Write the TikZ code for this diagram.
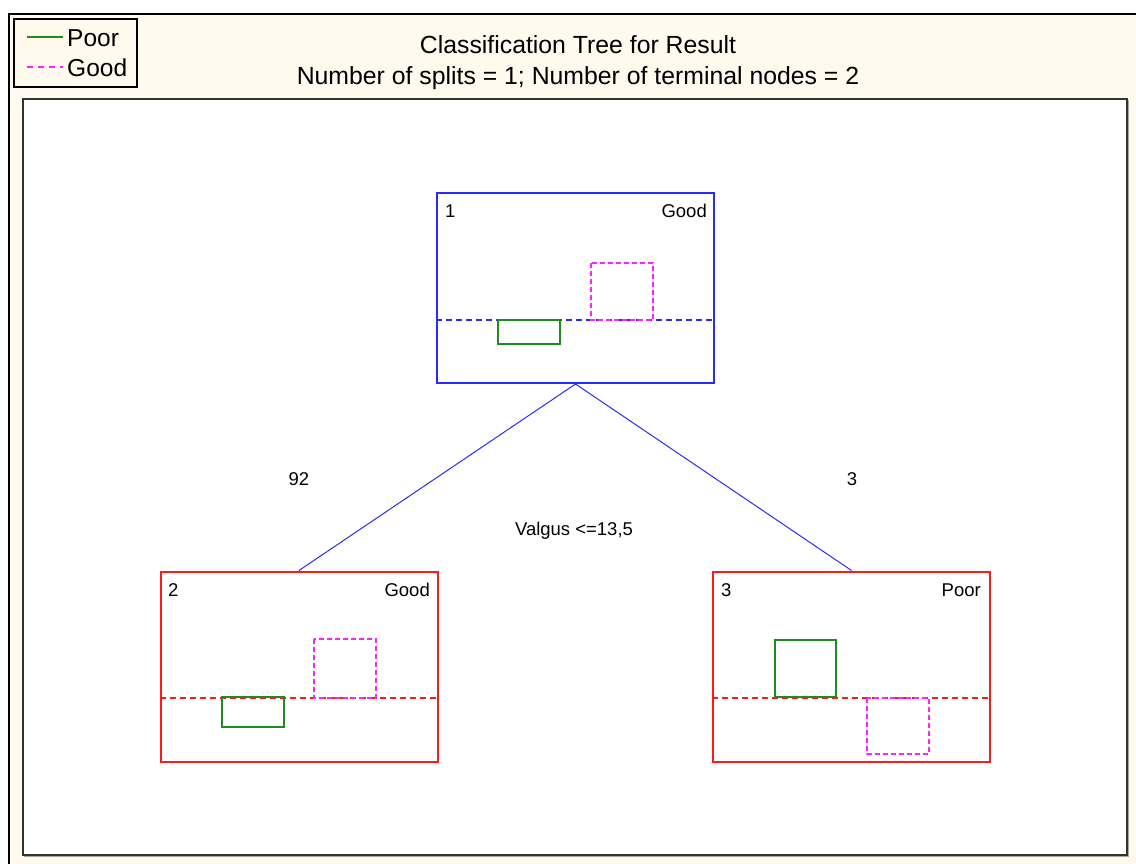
\documentclass[tikz,border=0pt]{standalone}
\usepackage{fontspec}
\setmainfont{Liberation Sans}
\definecolor{cream}{HTML}{FFF9EE}
\definecolor{treeblue}{HTML}{2A2AFF}
\definecolor{treered}{HTML}{FF1A1A}
\definecolor{poorgreen}{HTML}{1E8C1E}
\definecolor{goodmag}{HTML}{FF22FF}
\tikzset{
  txt/.style={inner sep=0pt, text=black},
  title/.style={txt, font=\fontsize{24.8}{28}\selectfont},
  small/.style={txt, font=\fontsize{18.5}{21}\selectfont},
  legtxt/.style={txt, font=\fontsize{24.5}{28}\selectfont, anchor=west},
  tnode/.style={draw, line width=2pt, minimum width=277pt, minimum height=190pt, inner sep=0pt},
  split/.style={line width=1.4pt, dash pattern=on 6pt off 4pt},
  poorbar/.style={draw=poorgreen, line width=1.5pt},
  goodbar/.style={draw=goodmag, line width=1.5pt, dash pattern=on 5pt off 3pt},
  edge/.style={draw=treeblue, line width=1pt}
}
\begin{document}
\begin{tikzpicture}[x=1pt,y=-1pt]
\useasboundingbox (0,0) rectangle (1136,864);
\clip (0,0) rectangle (1136,864);
% outer panel
\fill[cream] (9,14) rectangle (1150,880);
\draw[black, line width=1.4pt] (9,880) -- (9,14) -- (1150,14);
% legend
\draw[black, line width=1.3pt, fill=cream] (14,19) rectangle (137,87);
\draw[poorgreen, line width=1.3pt] (27,37) -- (63,37);
\node[legtxt] (lpoor) at (67,38) {Poor};
\draw[goodmag, line width=1.3pt, dash pattern=on 6pt off 5pt] (27,67) -- (63,67);
\node[legtxt] (lgood) at (67,68) {Good};
% titles
\node[title] (t1) at (578,45) {Classification Tree for Result};
\node[title] (t2) at (578,78) {Number of splits = 1; Number of terminal nodes = 2};
% plot area with shadow
\fill[white] (23,99) rectangle (1127,855);
\draw[gray!70, line width=1pt] (24,856.5) -- (1128.5,856.5) -- (1128.5,100);
\draw[black!80, line width=1.2pt] (23,99) rectangle (1127,855);
% tree nodes
\node[tnode, draw=treeblue] (n1) at (575.5,288) {};
\node[tnode, draw=treered] (n2) at (299,666.5) {};
\node[tnode, draw=treered] (n3) at (851.5,666.5) {};
% connectors
\draw[edge] (n1.south) -- (n2.north);
\draw[edge] (n1.south) -- (n3.north);
\node[small] (c92) at (299,479) {92};
\node[small] (c3) at (852,479) {3};
\node[small] (rule) at (574,531) {Valgus <=13,5};
% node 1
\node[small, anchor=west] (id1) at (445,211) {1};
\node[small, anchor=east] (cl1) at (707,211) {Good};
\draw[treeblue, split] (n1.west |- 0,320) -- (n1.east |- 0,320);
\draw[poorbar] (498,320) rectangle (560,344);
\draw[goodbar] (591,263) rectangle (653,320);
% node 2
\node[small, anchor=west] (id2) at (168,590) {2};
\node[small, anchor=east] (cl2) at (430,590) {Good};
\draw[treered, split] (n2.west |- 0,698) -- (n2.east |- 0,698);
\draw[poorbar] (222,697) rectangle (284,727);
\draw[goodbar] (314,639) rectangle (376,698);
% node 3
\node[small, anchor=west] (id3) at (721,590) {3};
\node[small, anchor=east] (cl3) at (981,590) {Poor};
\draw[treered, split] (n3.west |- 0,698) -- (n3.east |- 0,698);
\draw[poorbar] (775,640) rectangle (836,697);
\draw[goodbar] (867,698) rectangle (929,754);
\end{tikzpicture}
\end{document}
